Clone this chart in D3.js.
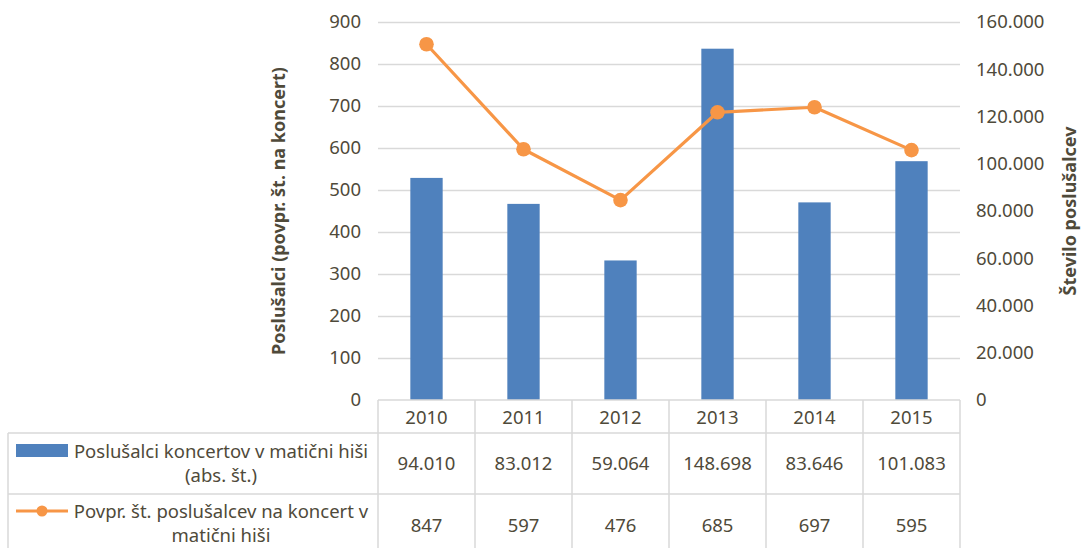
<!DOCTYPE html>
<html>
<head>
<meta charset="utf-8">
<script src="https://cdn.jsdelivr.net/npm/d3@7"></script>
<style>
  body { margin: 0; background: #fff; }
  svg { display: block; font-family: 'Noto Sans', sans-serif; }
</style>
</head>
<body>
<div id="chart"></div>
<script>
// Data
const years = ['2010', '2011', '2012', '2013', '2014', '2015'];
const listeners = [94010, 83012, 59064, 148698, 83646, 101083];
const avgPerConcert = [847, 597, 476, 685, 697, 595];
const leftTicks = [0, 100, 200, 300, 400, 500, 600, 700, 800, 900];
const rightTicks = [0, 20000, 40000, 60000, 80000, 100000, 120000, 140000, 160000];
const barName = ['Poslušalci koncertov v matični hiši', '(abs. št.)'];
const lineName = ['Povpr. št. poslušalcev na koncert v', 'matični hiši'];

const W = 1083, H = 548;
const textColor = '#4f4a3a';
const gridColor = '#d9d9d9';
const barColor = '#4f81bd';
const lineColor = '#f79646';

const plot = { left: 378, right: 960, top: 22, bottom: 400 };
const table = { headerBottom: 433, row1Bottom: 494, left: 8 };

const sl = d3.formatLocale({ decimal: ',', thousands: '.', grouping: [3], currency: ['', ' €'] });
const fmt = sl.format(',d');

const svg = d3.select('#chart').append('svg')
  .attr('width', W)
  .attr('height', H);

const x = d3.scaleBand()
  .domain(years)
  .range([plot.left, plot.right])
  .paddingInner(0)
  .paddingOuter(0);

const yLeft = d3.scaleLinear().domain([0, 900]).range([plot.bottom, plot.top]);
const yRight = d3.scaleLinear().domain([0, 160000]).range([plot.bottom, plot.top]);

// Gridlines
svg.append('g')
  .selectAll('line')
  .data(leftTicks.slice(1))
  .enter()
  .append('line')
  .attr('x1', plot.left)
  .attr('x2', plot.right)
  .attr('y1', d => Math.round(yLeft(d)) + 0.5)
  .attr('y2', d => Math.round(yLeft(d)) + 0.5)
  .attr('stroke', gridColor)
  .attr('stroke-width', 1.3);

// Left axis
const leftAxis = svg.append('g')
  .attr('transform', `translate(${plot.left - 17},0)`)
  .call(d3.axisLeft(yLeft).tickValues(leftTicks).tickSize(0).tickPadding(0));
leftAxis.select('.domain').remove();
leftAxis.selectAll('text')
  .style('font-family', "'Noto Sans', sans-serif")
  .style('font-size', '18.5px')
  .attr('fill', textColor);

// Right axis
const rightAxis = svg.append('g')
  .attr('transform', `translate(${plot.right + 16},0)`)
  .call(d3.axisRight(yRight).tickValues(rightTicks).tickFormat(fmt).tickSize(0).tickPadding(0));
rightAxis.select('.domain').remove();
rightAxis.selectAll('text')
  .style('font-family', "'Noto Sans', sans-serif")
  .style('font-size', '18.5px')
  .attr('fill', textColor);

// Axis titles
svg.append('text')
  .attr('transform', `translate(285, ${(plot.top + plot.bottom) / 2}) rotate(-90)`)
  .attr('text-anchor', 'middle')
  .style('font-size', '18px')
  .style('font-weight', '700')
  .attr('fill', textColor)
  .text('Poslušalci (povpr. št. na koncert)');

svg.append('text')
  .attr('transform', `translate(1076, ${(plot.top + plot.bottom) / 2}) rotate(-90)`)
  .attr('text-anchor', 'middle')
  .style('font-size', '18px')
  .style('font-weight', '700')
  .attr('fill', textColor)
  .text('Število poslušalcev');

// Bars (right axis)
const barW = x.bandwidth() / 3;
svg.append('g')
  .selectAll('rect')
  .data(years.map((y, i) => ({ year: y, value: listeners[i] })))
  .enter()
  .append('rect')
  .attr('x', d => x(d.year) + (x.bandwidth() - barW) / 2)
  .attr('y', d => yRight(d.value))
  .attr('width', barW)
  .attr('height', d => plot.bottom - yRight(d.value))
  .attr('fill', barColor);

// Line (left axis)
const linePts = years.map((y, i) => ({ year: y, value: avgPerConcert[i] }));
const line = d3.line()
  .x(d => x(d.year) + x.bandwidth() / 2)
  .y(d => yLeft(d.value));

svg.append('path')
  .datum(linePts)
  .attr('d', line)
  .attr('fill', 'none')
  .attr('stroke', lineColor)
  .attr('stroke-width', 3.2)
  .attr('stroke-linejoin', 'round');

svg.append('g')
  .selectAll('circle')
  .data(linePts)
  .enter()
  .append('circle')
  .attr('cx', d => x(d.year) + x.bandwidth() / 2)
  .attr('cy', d => yLeft(d.value))
  .attr('r', 7.3)
  .attr('fill', lineColor);

// Data table
const tbl = svg.append('g')
  .attr('stroke', gridColor)
  .attr('stroke-width', 1.5)
  .attr('fill', 'none');

// horizontal lines
tbl.append('line').attr('x1', plot.left).attr('x2', plot.right).attr('y1', plot.bottom).attr('y2', plot.bottom);
tbl.append('line').attr('x1', table.left).attr('x2', plot.right).attr('y1', table.headerBottom).attr('y2', table.headerBottom);
tbl.append('line').attr('x1', table.left).attr('x2', plot.right).attr('y1', table.row1Bottom).attr('y2', table.row1Bottom);
// left border of legend column
tbl.append('line').attr('x1', table.left).attr('x2', table.left).attr('y1', table.headerBottom).attr('y2', H);
// column borders
tbl.selectAll('.col')
  .data(years.concat(['end']))
  .enter()
  .append('line')
  .attr('class', 'col')
  .attr('x1', d => d === 'end' ? plot.right : x(d))
  .attr('x2', d => d === 'end' ? plot.right : x(d))
  .attr('y1', plot.bottom)
  .attr('y2', H);

const cellText = (sel) => sel
  .attr('text-anchor', 'middle')
  .style('font-size', '18.5px')
  .attr('fill', textColor);

// header
svg.append('g')
  .selectAll('text')
  .data(years)
  .enter()
  .append('text')
  .attr('x', d => x(d) + x.bandwidth() / 2)
  .attr('y', 424)
  .call(cellText)
  .text(d => d);

// row 1 values
svg.append('g')
  .selectAll('text')
  .data(years.map((y, i) => ({ year: y, value: listeners[i] })))
  .enter()
  .append('text')
  .attr('x', d => x(d.year) + x.bandwidth() / 2)
  .attr('y', 470)
  .call(cellText)
  .text(d => fmt(d.value));

// row 2 values
svg.append('g')
  .selectAll('text')
  .data(linePts)
  .enter()
  .append('text')
  .attr('x', d => x(d.year) + x.bandwidth() / 2)
  .attr('y', 532)
  .call(cellText)
  .text(d => fmt(d.value));

// legend keys + row labels
const labelCx = 221;
svg.append('rect')
  .attr('x', 16).attr('y', 444)
  .attr('width', 52).attr('height', 13)
  .attr('fill', barColor);

svg.append('g')
  .selectAll('text')
  .data(barName)
  .enter()
  .append('text')
  .attr('x', labelCx)
  .attr('y', (d, i) => 458 + i * 23.5)
  .call(cellText)
  .text(d => d);

svg.append('line')
  .attr('x1', 16).attr('x2', 68)
  .attr('y1', 511).attr('y2', 511)
  .attr('stroke', lineColor)
  .attr('stroke-width', 3.2);
svg.append('circle')
  .attr('cx', 42).attr('cy', 511)
  .attr('r', 5.5)
  .attr('fill', lineColor);

svg.append('g')
  .selectAll('text')
  .data(lineName)
  .enter()
  .append('text')
  .attr('x', labelCx)
  .attr('y', (d, i) => 518 + i * 23.5)
  .call(cellText)
  .text(d => d);
</script>
</body>
</html>
